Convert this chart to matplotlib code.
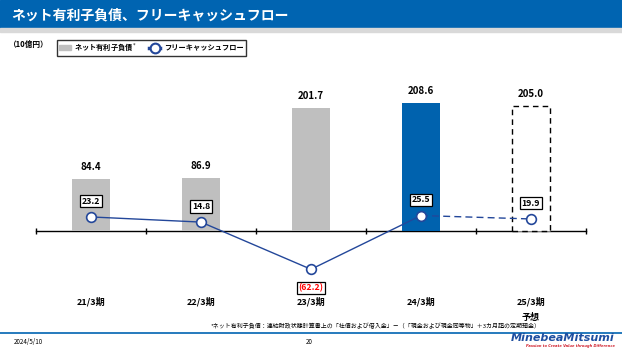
import matplotlib.pyplot as plt
from matplotlib.patches import Rectangle, Patch
from matplotlib.lines import Line2D
import matplotlib.transforms as mtransforms

plt.rcParams['font.family'] = ['Noto Sans CJK JP', 'DejaVu Sans']

# データ（10億円）
periods = ['21/3期', '22/3期', '23/3期', '24/3期', '25/3期']
net_debt = [84.4, 86.9, 201.7, 208.6, 205.0]
fcf = [23.2, 14.8, -62.2, 25.5, 19.9]
fcf_labels = ['23.2', '14.8', '(62.2)', '25.5', '19.9']
debt_labels = ['84.4', '86.9', '201.7', '208.6', '205.0']

BLUE = '#0062AE'
LINE = '#23479A'
GREY = '#BFBFBF'

fig = plt.figure(figsize=(6.22, 3.5), dpi=100)
W, H = 622, 350

# タイトルバー
fig.patches.append(Rectangle((0, 1 - 28 / H), 1, 28 / H, transform=fig.transFigure,
                             color='#0064B1', zorder=0))
fig.patches.append(Rectangle((0, 1 - 32 / H), 1, 4 / H, transform=fig.transFigure,
                             color='#D9D9D9', zorder=0))
fig.text(11 / W, 1 - 15 / H, 'ネット有利子負債、フリーキャッシュフロー', color='white',
         fontsize=10, fontweight='bold', va='center', ha='left')
fig.text(9 / W, 1 - 44 / H, '（10億円）', fontsize=5.5, fontweight='bold', va='center', ha='left')

ax = fig.add_axes([36 / W, 60 / H, 550 / W, 228 / H])
x = list(range(len(periods)))

colors = [GREY, GREY, GREY, BLUE, 'white']
bars = ax.bar(x, net_debt, width=0.34, color=colors, zorder=2)
bars[4].set_edgecolor('black')
bars[4].set_linestyle((0, (4, 3)))
bars[4].set_linewidth(1.0)

for xi, v, lab in zip(x, net_debt, debt_labels):
    ax.annotate(lab, (xi, v), xytext=(0, 5), textcoords='offset points',
                ha='center', va='bottom', fontsize=7, fontweight='bold')

# フリーキャッシュフロー
ax.plot(x[:4], fcf[:4], color=LINE, lw=1.0, zorder=3)
ax.plot(x[3:], fcf[3:], color=LINE, lw=1.0, ls=(0, (5, 3)), zorder=3)
ax.plot(x, fcf, ls='none', marker='o', ms=7, mfc='white', mec=LINE, mew=1.2, zorder=4)

for xi, v, lab in zip(x, fcf, fcf_labels):
    neg = v < 0
    ax.annotate(lab, (xi, v), xytext=(0, -10 if neg else 8), textcoords='offset points',
                ha='center', va='top' if neg else 'bottom', fontsize=6.3, fontweight='bold',
                color='red' if neg else 'black',
                bbox=dict(boxstyle='square,pad=0.18', fc='white', ec='black', lw=0.9),
                zorder=5)

ax.set_xlim(-0.5, 4.5)
ax.set_ylim(-96, 276)
for s in ['top', 'right', 'left']:
    ax.spines[s].set_visible(False)
ax.spines['bottom'].set_position(('data', 0))
ax.spines['bottom'].set_linewidth(1.0)
ax.spines['bottom'].set_zorder(1)
ax.set_yticks([])
ax.set_xticks([i - 0.5 for i in range(len(periods) + 1)])
ax.set_xticklabels([])
ax.tick_params(axis='x', direction='inout', length=5, width=1.0)

trans = mtransforms.blended_transform_factory(ax.transData, ax.transAxes)
for xi, p in zip(x, periods):
    ax.text(xi, -0.053, p, transform=trans, ha='center', va='center',
            fontsize=6.5, fontweight='bold')
ax.text(4, -0.12, '予想', transform=trans, ha='center', va='center',
        fontsize=6.5, fontweight='bold')

# 凡例
handles = [Patch(color=GREY),
           Line2D([], [], color=LINE, lw=2.5, marker='o', ms=7, mfc='white', mec=LINE, mew=1.5)]
leg = fig.legend(handles, ['ネット有利子負債$^*$', 'フリーキャッシュフロー'], ncol=2,
                 loc='upper left', bbox_to_anchor=(53 / W, 1 - 36 / H), frameon=True,
                 fancybox=False, edgecolor='black', fontsize=5.2, handlelength=1.6,
                 handleheight=0.7, columnspacing=1.6, borderpad=0.35, handletextpad=0.5)
leg.get_frame().set_linewidth(1.0)
for t in leg.get_texts():
    t.set_fontweight('bold')

# 注記・フッター
fig.text(541 / W, 1 - 326 / H,
         '*ネット有利子負債：連結財政状態計算書上の「社債および借入金」－（「現金および現金同等物」＋3カ月超の定期預金）',
         fontsize=4.3, ha='right', va='center')
fig.lines.append(Line2D([0, 1], [1 - 333 / H, 1 - 333 / H], transform=fig.transFigure,
                        color='#0064B1', lw=1.2))
fig.text(14 / W, 1 - 342 / H, '2024/5/10', fontsize=4.5, ha='left', va='center')
fig.text(309 / W, 1 - 342 / H, '20', fontsize=4.5, ha='center', va='center')
fig.text(615 / W, 1 - 338 / H, 'MinebeaMitsumi', fontsize=8, fontweight='bold',
         fontstyle='italic', color='#1E4FA0', family=['DejaVu Sans'], ha='right', va='center')
fig.text(615 / W, 1 - 346 / H, 'Passion to Create Value through Difference', fontsize=2.6,
         fontweight='bold', fontstyle='italic', color='#D0202C', family=['DejaVu Sans'],
         ha='right', va='center')

fig.savefig('out.png', dpi=100)
